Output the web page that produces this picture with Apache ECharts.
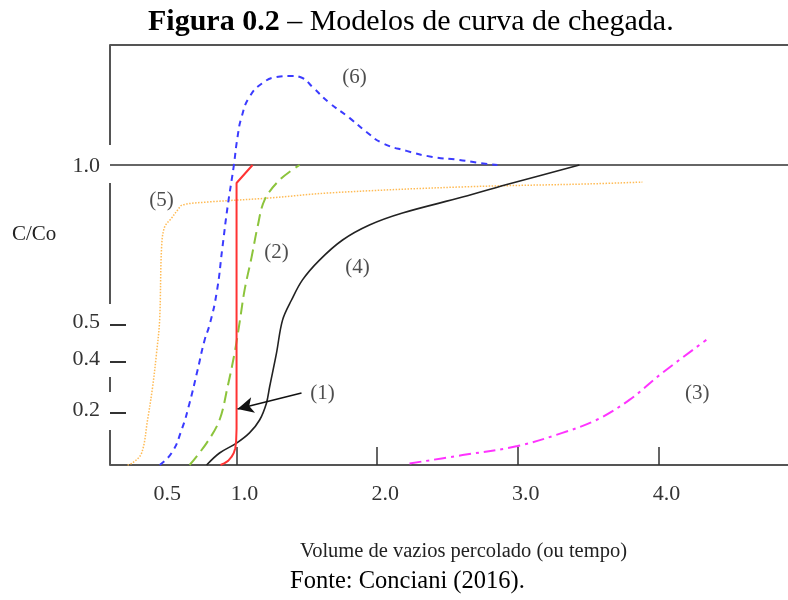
<!DOCTYPE html>
<html>
<head>
<meta charset="utf-8">
<script src="https://cdn.jsdelivr.net/npm/echarts@6/dist/echarts.min.js"></script>
<style>html,body{margin:0;padding:0;background:#fff}#c{width:788px;height:600px}</style>
</head>
<body>
<div id="c"></div>
<script>
// ---- data ----
const xTickValues = [1, 2, 3, 4];
const xLabelValues = [0.5, 1, 2, 3, 4];
const yTickValues = [0.173, 0.343, 0.467];
const yLabelValues = [0.173, 0.343, 0.467, 1.0];
const yLabelTexts = ['0.2', '0.4', '0.5', '1.0'];

const curve1 = [[0.886,0],[0.915,0.006],[0.94,0.014],[0.964,0.027],[0.98,0.04],[0.991,0.056],[0.997,0.08],[1.0,0.12],[1.0,0.94],[1.114,1.0]];
const curve2 = [[0.666,0],[0.787,0.073],[0.879,0.15],[0.936,0.26],[0.986,0.373],[1.021,0.473],[1.057,0.583],[1.107,0.693],[1.149,0.793],[1.199,0.883],[1.306,0.95],[1.448,1.0]];
const curve3 = [[2.23,0.005],[2.607,0.033],[2.998,0.063],[3.317,0.107],[3.559,0.15],[3.794,0.217],[4.028,0.307],[4.341,0.417]];
const curve4 = [[0.787,0],[0.879,0.04],[1.0,0.073],[1.092,0.107],[1.164,0.15],[1.213,0.207],[1.235,0.26],[1.284,0.373],[1.327,0.483],[1.391,0.55],[1.469,0.617],[1.59,0.683],[1.754,0.75],[1.945,0.8],[2.18,0.84],[2.607,0.893],[2.962,0.94],[3.438,1.0]];
const curve5 = [[0.225,0],[0.261,0.007],[0.325,0.04],[0.367,0.15],[0.403,0.26],[0.431,0.373],[0.453,0.483],[0.467,0.727],[0.488,0.793],[0.538,0.823],[0.581,0.85],[0.616,0.867],[0.808,0.877],[1.235,0.89],[1.661,0.907],[2.607,0.927],[3.509,0.937],[3.886,0.943]];
const curve6 = [[0.453,0],[0.538,0.04],[0.609,0.117],[0.666,0.207],[0.723,0.317],[0.773,0.417],[0.808,0.467],[0.858,0.573],[0.9,0.727],[0.936,0.86],[0.979,0.993],[1.007,1.093],[1.036,1.16],[1.092,1.227],[1.185,1.273],[1.284,1.293],[1.391,1.297],[1.469,1.29],[1.54,1.26],[1.661,1.207],[1.803,1.157],[1.924,1.11],[2.038,1.073],[2.209,1.047],[2.393,1.027],[2.585,1.017],[2.727,1.007],[2.855,1.0]];

const curveLabels = [['(1)',1.611,0.24],['(2)',1.284,0.707],['(3)',4.277,0.24],['(4)',1.86,0.657],['(5)',0.467,0.883],['(6)',1.839,1.293]];
const arrowFrom = [1.462, 0.24];
const arrowTo = [1.007, 0.187];

const xMin = 0.1, xMax = 5.0, yMin = 0, yMax = 1.4;
const leftAxisBreaks = [[1.4,1.067],[0.94,0.537],[0.293,0.243],[0.117,0]];
const refLevel = 1.0;

// ---- chart ----
const FF = 'Liberation Serif';
const chart = echarts.init(document.getElementById('c'), null, {renderer:'canvas'});

function lineSeries(name, data, color, width, type, smooth) {
  return {
    name, type:'line', data, smooth:smooth, symbol:'none', clip:false,
    lineStyle:{color, width, type}, z:3
  };
}

chart.setOption({
  animation:false,
  backgroundColor:'#fff',
  title:[
    {text:'{b|Figura 0.2} – Modelos de curva de chegada.', left:148, top:7, padding:0,
     textStyle:{fontFamily:FF, fontSize:30, fontWeight:'normal', color:'#000',
       rich:{b:{fontFamily:FF, fontSize:30, fontWeight:'bold', color:'#000'}}}},
    {text:'C/Co', left:12, top:224, padding:0, textStyle:{fontFamily:FF, fontSize:21, fontWeight:'normal', color:'#222'}},
    {text:'Volume de vazios percolado (ou tempo)', left:300, top:541, padding:0, textStyle:{fontFamily:FF, fontSize:20.5, fontWeight:'normal', color:'#222'}},
    {text:'Fonte: Conciani (2016).', left:290, top:569, padding:0, textStyle:{fontFamily:FF, fontSize:24.5, fontWeight:'normal', color:'#000'}}
  ],
  grid:{left:110, top:45, width:689, height:420, outerBoundsMode:'none', containLabel:false},
  xAxis:[{
    type:'value', min:xMin, max:xMax, position:'bottom',
    axisLine:{show:true, lineStyle:{color:'#555', width:2}},
    axisTick:{show:true, inside:true, length:18, customValues:xTickValues, lineStyle:{color:'#333', width:1.5}},
    axisLabel:{show:true, customValues:xLabelValues, margin:18, color:'#333', fontFamily:FF, fontSize:22,
      formatter:v => v === 0.5 ? '{a|' + v.toFixed(1) + '}' : '{b|' + v.toFixed(1) + '}',
      rich:{a:{fontFamily:FF, fontSize:22, color:'#333', padding:[0,0,0,2]},
            b:{fontFamily:FF, fontSize:22, color:'#333', padding:[0,0,0,16]}}},
    splitLine:{show:false}
  },{
    type:'value', min:xMin, max:xMax, position:'top',
    axisLine:{show:true, lineStyle:{color:'#555', width:2}},
    axisTick:{show:false}, axisLabel:{show:false}, splitLine:{show:false}
  }],
  yAxis:{
    type:'value', min:yMin, max:yMax,
    axisLine:{show:false},
    axisTick:{show:true, inside:true, length:16, customValues:yTickValues, lineStyle:{color:'#333', width:2}},
    axisLabel:{show:true, customValues:yLabelValues, margin:10, color:'#333', fontFamily:FF, fontSize:22,
      formatter:v => {
        const i = yLabelValues.indexOf(v);
        const t = i >= 0 ? yLabelTexts[i] : '';
        return v === 1.0 ? '{a|' + t + '}' : '{b|' + t + '}';
      },
      rich:{a:{fontFamily:FF, fontSize:22, color:'#333', padding:[2,0,0,0]},
            b:{fontFamily:FF, fontSize:22, color:'#333', padding:[0,0,6,0]}}},
    splitLine:{show:false}
  },
  series:[
    {
      name:'axis', type:'custom', clip:false, z:2,
      data:leftAxisBreaks,
      renderItem:(params, api) => {
        const p0 = api.coord([xMin, api.value(0)]);
        const p1 = api.coord([xMin, api.value(1)]);
        return {type:'line', shape:{x1:p0[0], y1:p0[1], x2:p1[0], y2:p1[1]}, style:{stroke:'#555', lineWidth:2}};
      }
    },
    {name:'ref', type:'line', data:[[xMin, refLevel],[xMax, refLevel]], symbol:'none', clip:false,
     lineStyle:{color:'#333', width:1.5}, z:2},
    lineSeries('(5)', curve5, '#ffbb55', 1.5, [1.5,1.5], 0.35),
    lineSeries('(6)', curve6, '#3b3bff', 2, [6,5], 0.5),
    lineSeries('(2)', curve2, '#8cc43c', 2, [12,6], 0.35),
    lineSeries('(4)', curve4, '#222222', 1.6, 'solid', 0.35),
    lineSeries('(1)', curve1, '#ff3333', 2, 'solid', false),
    lineSeries('(3)', curve3, '#ff33ff', 2, [12,5,3,5], 0.35),
    {
      name:'labels', type:'scatter', symbolSize:0, z:4,
      data:curveLabels.map(d => ({value:[d[1], d[2]], name:d[0]})),
      label:{show:true, position:'inside', formatter:p => p.name, fontFamily:FF, fontSize:21, color:'#222'},
      markLine:{
        silent:true, symbol:['none','arrow'], symbolSize:[12,16],
        lineStyle:{color:'#111', width:1.5, type:'solid'}, label:{show:false},
        data:[[{coord:arrowFrom},{coord:arrowTo}]]
      }
    }
  ]
});
</script>
</body>
</html>
